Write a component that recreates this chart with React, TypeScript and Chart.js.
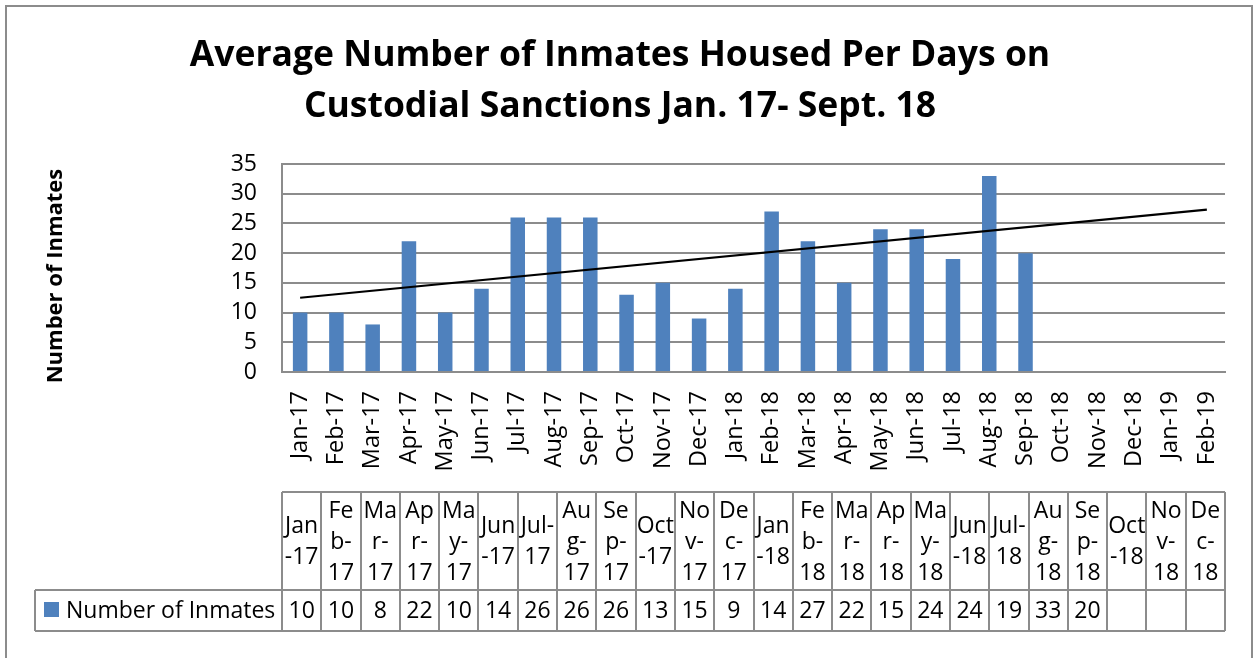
import React, { useEffect, useRef } from "react";
import { Chart, registerables } from "chart.js";

Chart.register(...registerables);

const FONT = "'Open Sans', sans-serif";

const titleLines = [
  "Average Number of Inmates Housed Per Days on",
  "Custodial Sanctions Jan. 17- Sept. 18",
];
const yAxisTitle = "Number of Inmates";
const seriesName = "Number of Inmates";

const categories = [
  "Jan-17", "Feb-17", "Mar-17", "Apr-17", "May-17", "Jun-17", "Jul-17",
  "Aug-17", "Sep-17", "Oct-17", "Nov-17", "Dec-17", "Jan-18", "Feb-18",
  "Mar-18", "Apr-18", "May-18", "Jun-18", "Jul-18", "Aug-18", "Sep-18",
  "Oct-18", "Nov-18", "Dec-18", "Jan-19", "Feb-19",
];

const inmates = [10, 10, 8, 22, 10, 14, 26, 26, 26, 13, 15, 9, 14, 27, 22, 15, 24, 24, 19, 33, 20];

const yMin = 0;
const yMax = 35;
const yStep = 5;

// data table header labels as wrapped in the original (Jan-17 .. Dec-18)
const tableHeaders = [
  ["Jan", "-17"], ["Fe", "b-", "17"], ["Ma", "r-", "17"], ["Ap", "r-", "17"],
  ["Ma", "y-", "17"], ["Jun", "-17"], ["Jul-", "17"], ["Au", "g-", "17"],
  ["Se", "p-", "17"], ["Oct", "-17"], ["No", "v-", "17"], ["De", "c-", "17"],
  ["Jan", "-18"], ["Fe", "b-", "18"], ["Ma", "r-", "18"], ["Ap", "r-", "18"],
  ["Ma", "y-", "18"], ["Jun", "-18"], ["Jul-", "18"], ["Au", "g-", "18"],
  ["Se", "p-", "18"], ["Oct", "-18"], ["No", "v-", "18"], ["De", "c-", "18"],
];

const BAR_COLOR = "#4F81BD";
const GRID = "#8c8c8c";

// linear trendline (least squares) over the series
function trendEnds(vals: number[], n: number): [number, number] {
  const m = vals.length;
  let sx = 0, sy = 0, sxy = 0, sxx = 0;
  vals.forEach((v, i) => { sx += i; sy += v; sxy += i * v; sxx += i * i; });
  const slope = (m * sxy - sx * sy) / (m * sxx - sx * sx);
  const icpt = (sy - slope * sx) / m;
  return [icpt, icpt + slope * (n - 1)];
}

const decorPlugin = {
  id: "decor",
  afterDraw(chart: any) {
    const ctx: CanvasRenderingContext2D = chart.ctx;
    const a = chart.chartArea;
    ctx.save();

    // outer chart border
    ctx.strokeStyle = GRID;
    ctx.lineWidth = 2;
    ctx.strokeRect(6, 6, 1246, 700);

    // title
    ctx.fillStyle = "#000";
    ctx.textAlign = "center";
    ctx.textBaseline = "alphabetic";
    ctx.font = `bold 35.5px ${FONT}`;
    ctx.fillText(titleLines[0], 620, 66);
    ctx.fillText(titleLines[1], 620, 117);

    // y axis title
    ctx.save();
    ctx.translate(62, 276);
    ctx.rotate(-Math.PI / 2);
    ctx.font = `bold 22px ${FONT}`;
    ctx.textAlign = "center";
    ctx.textBaseline = "alphabetic";
    ctx.fillText(yAxisTitle, 0, 0);
    ctx.restore();

    // data table
    const left = Math.round(a.left);
    const right = Math.round(a.right);
    const nCols = tableHeaders.length;
    const colW = (right - left) / nCols;
    const top = 492;
    const mid = 590;
    const bottom = 631;
    const legLeft = 35;

    ctx.strokeStyle = GRID;
    ctx.lineWidth = 2;
    ctx.beginPath();
    ctx.moveTo(left, top); ctx.lineTo(right, top);
    ctx.moveTo(legLeft, mid); ctx.lineTo(right, mid);
    ctx.moveTo(legLeft, bottom); ctx.lineTo(right, bottom);
    for (let i = 0; i <= nCols; i++) {
      const x = Math.round(left + i * colW);
      ctx.moveTo(x, top); ctx.lineTo(x, bottom);
    }
    ctx.moveTo(legLeft, mid); ctx.lineTo(legLeft, bottom);
    ctx.stroke();

    ctx.fillStyle = "#000";
    ctx.font = `23px ${FONT}`;
    ctx.textAlign = "center";
    ctx.textBaseline = "middle";
    const lh = 31;
    const hc = (top + mid) / 2;
    tableHeaders.forEach((lines, i) => {
      const cx = left + (i + 0.5) * colW;
      const y0 = hc - ((lines.length - 1) * lh) / 2;
      lines.forEach((t, j) => ctx.fillText(t, cx, y0 + j * lh + 1));
    });
    const vc = (mid + bottom) / 2 + 1;
    for (let i = 0; i < nCols; i++) {
      const v = inmates[i];
      if (v === undefined) continue;
      ctx.fillText(String(v), left + (i + 0.5) * colW, vc);
    }

    // legend key
    ctx.fillStyle = BAR_COLOR;
    ctx.fillRect(44, 602, 15, 15);
    ctx.fillStyle = "#000";
    ctx.textAlign = "left";
    ctx.fillText(seriesName, 66, vc);

    ctx.restore();
  },
};

export default function App() {
  const ref = useRef<HTMLCanvasElement | null>(null);

  useEffect(() => {
    if (!ref.current) return;
    const [t0, t1] = trendEnds(inmates, categories.length);
    const trend = categories.map((_, i) => (i === 0 ? t0 : i === categories.length - 1 ? t1 : null));
    const bars = categories.map((_, i) => (i < inmates.length ? inmates[i] : null));

    const chart = new Chart(ref.current, {
      type: "bar",
      data: {
        labels: categories,
        datasets: [
          {
            type: "line",
            label: "Linear (Number of Inmates)",
            data: trend,
            borderColor: "#000",
            borderWidth: 2.2,
            pointRadius: 0,
            spanGaps: true,
            fill: false,
            order: 0,
          } as any,
          {
            type: "bar",
            label: seriesName,
            data: bars,
            backgroundColor: BAR_COLOR,
            borderWidth: 0,
            barPercentage: 0.4,
            categoryPercentage: 1,
            order: 1,
          },
        ],
      },
      options: {
        animation: false,
        responsive: false,
        devicePixelRatio: 1,
        layout: { padding: { top: 164, left: 0, right: 32, bottom: 166 } },
        plugins: {
          legend: { display: false },
          title: { display: false },
          tooltip: { enabled: false },
        },
        scales: {
          x: {
            grid: { display: false, drawTicks: false },
            border: { display: true, color: GRID, width: 2 },
            ticks: {
              autoSkip: false,
              minRotation: 90,
              maxRotation: 90,
              padding: 19,
              color: "#000",
              font: { family: FONT, size: 23.5 },
            },
            afterFit: (s: any) => { s.height = 120; },
          },
          y: {
            min: yMin,
            max: yMax,
            ticks: {
              stepSize: yStep,
              autoSkip: false,
              padding: 25,
              color: "#000",
              font: { family: FONT, size: 23 },
            },
            grid: { color: GRID, lineWidth: 2, drawTicks: false },
            border: { display: true, color: GRID, width: 2 },
            afterFit: (s: any) => { s.width = 282; },
          },
        },
      },
      plugins: [decorPlugin],
    });
    return () => chart.destroy();
  }, []);

  return (
    <div style={{ position: "absolute", left: 0, top: 0, width: 1257, height: 658, background: "#fff" }}>
      <canvas ref={ref} width={1257} height={658} style={{ display: "block", width: 1257, height: 658 }} />
    </div>
  );
}
